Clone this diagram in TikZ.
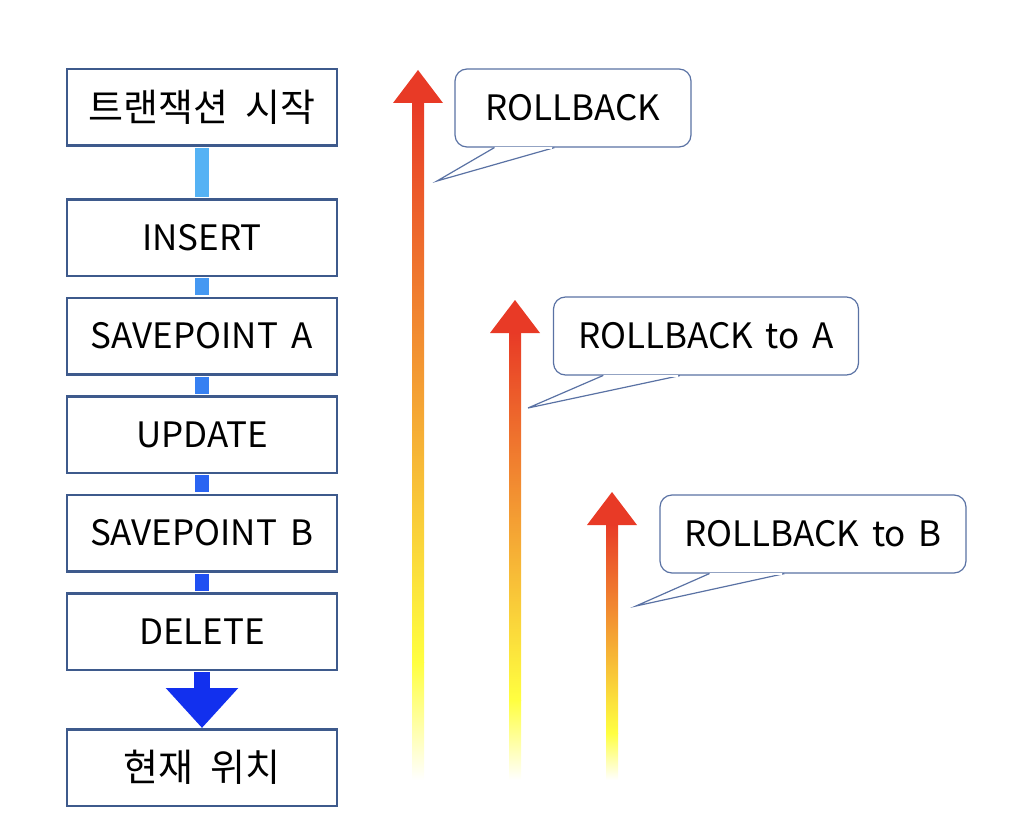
\documentclass[tikz,border=0pt]{standalone}
\usepackage{fontspec}
\setmainfont{Noto Sans CJK KR}
\usepackage{xcolor}
\usetikzlibrary{arrows.meta, positioning, calc}

\definecolor{boxline}{HTML}{3E5A8C}
\definecolor{calloutline}{HTML}{5A72A4}
\definecolor{linkA}{HTML}{55B2F4}
\definecolor{linkB}{HTML}{4598F2}
\definecolor{linkC}{HTML}{3680F2}
\definecolor{linkD}{HTML}{2A64F2}
\definecolor{linkE}{HTML}{2050F2}
\definecolor{linkF}{HTML}{1230EE}
\definecolor{arrowred}{HTML}{E83A26}
\definecolor{arroworange}{HTML}{EF7A30}
\definecolor{arrowyellow}{HTML}{FFFF40}

\begin{document}
\begin{tikzpicture}[
  x=1pt, y=-1pt,
  node distance=19.5pt,
  box/.style={rectangle, draw=boxline, line width=2.5pt, fill=white, minimum width=270pt, minimum height=76.5pt, font=\fontsize{35}{40}\selectfont},
  kbox/.style={box, font=\fontsize{38}{42}\selectfont},
  link/.style={line width=14pt, shorten <=1.25pt, shorten >=1.25pt},
  callout/.style={rectangle, rounded corners=12pt, draw=calloutline, line width=1.2pt, fill=white, minimum height=78pt, font=\fontsize{35}{40}\selectfont},
  pointer/.style={draw=calloutline, line width=1.2pt, fill=white, line join=miter}
]
  \useasboundingbox (0,0) rectangle (1012,840);

  % statement column
  \node[kbox] (start) at (202,107.5) {트랜잭션\hspace{8pt} 시작};
  \node[box, below=51pt of start] (insert) {INSERT};
  \node[box, below=of insert] (savea) {SAVEPOINT\hspace{6pt} A};
  \node[box, below=of savea] (update) {UPDATE};
  \node[box, below=of update] (saveb) {SAVEPOINT\hspace{6pt} B};
  \node[box, below=of saveb] (delete) {DELETE};
  \node[kbox, below=57pt of delete] (now) {현재\hspace{8pt} 위치};

  \draw[link, linkA] (start) -- (insert);
  \draw[link, linkB] (insert) -- (savea);
  \draw[link, linkC] (savea) -- (update);
  \draw[link, linkD] (update) -- (saveb);
  \draw[link, linkE] (saveb) -- (delete);
  \draw[line width=16pt, linkF, shorten <=1.25pt, -{Triangle[width=70pt, length=40pt]}] (delete) -- (now);

  % rollback arrows
  \foreach \x/\tip/\yel/\name in {418/70/662/rb, 515/300/700/rba, 612/492/733/rbb} {
    \coordinate (\name tip) at (\x,\tip);
    \coordinate (\name foot) at (\x,780);
    \shade[top color=arrowred, middle color=arroworange, bottom color=arrowyellow]
      ($(\name tip)+(-6,32)$) rectangle (\x+6,\yel);
    \shade[top color=arrowyellow, bottom color=white]
      (\x-6,\yel) rectangle ($(\name foot)+(6,0)$);
    \fill[arrowred] (\name tip) -- ++(25,33) -- ++(-50,0) -- cycle;
  }

  % callouts
  \node[callout, minimum width=236pt] (cb) at (573,108) {ROLLBACK};
  \node[callout, minimum width=305pt] (cba) at (706,336) {ROLLBACK\hspace{5pt} to\hspace{5pt} A};
  \node[callout, minimum width=306pt] (cbb) at (813,534) {ROLLBACK\hspace{5pt} to\hspace{5pt} B};

  \coordinate (cbpt) at (437,181);
  \coordinate (cbapt) at (528,408);
  \coordinate (cbbpt) at (636,606);
  \foreach \c/\a/\b in {cb/40/100, cba/50/127, cbb/50/125} {
    \draw[pointer] ($(\c.south west)+(\a,0)$) -- (\c pt) -- ($(\c.south west)+(\b,0)$);
    \draw[white, line width=2pt] ($(\c.south west)+(\a+1,0)$) -- ($(\c.south west)+(\b-2,0)$);
  }
\end{tikzpicture}
\end{document}
